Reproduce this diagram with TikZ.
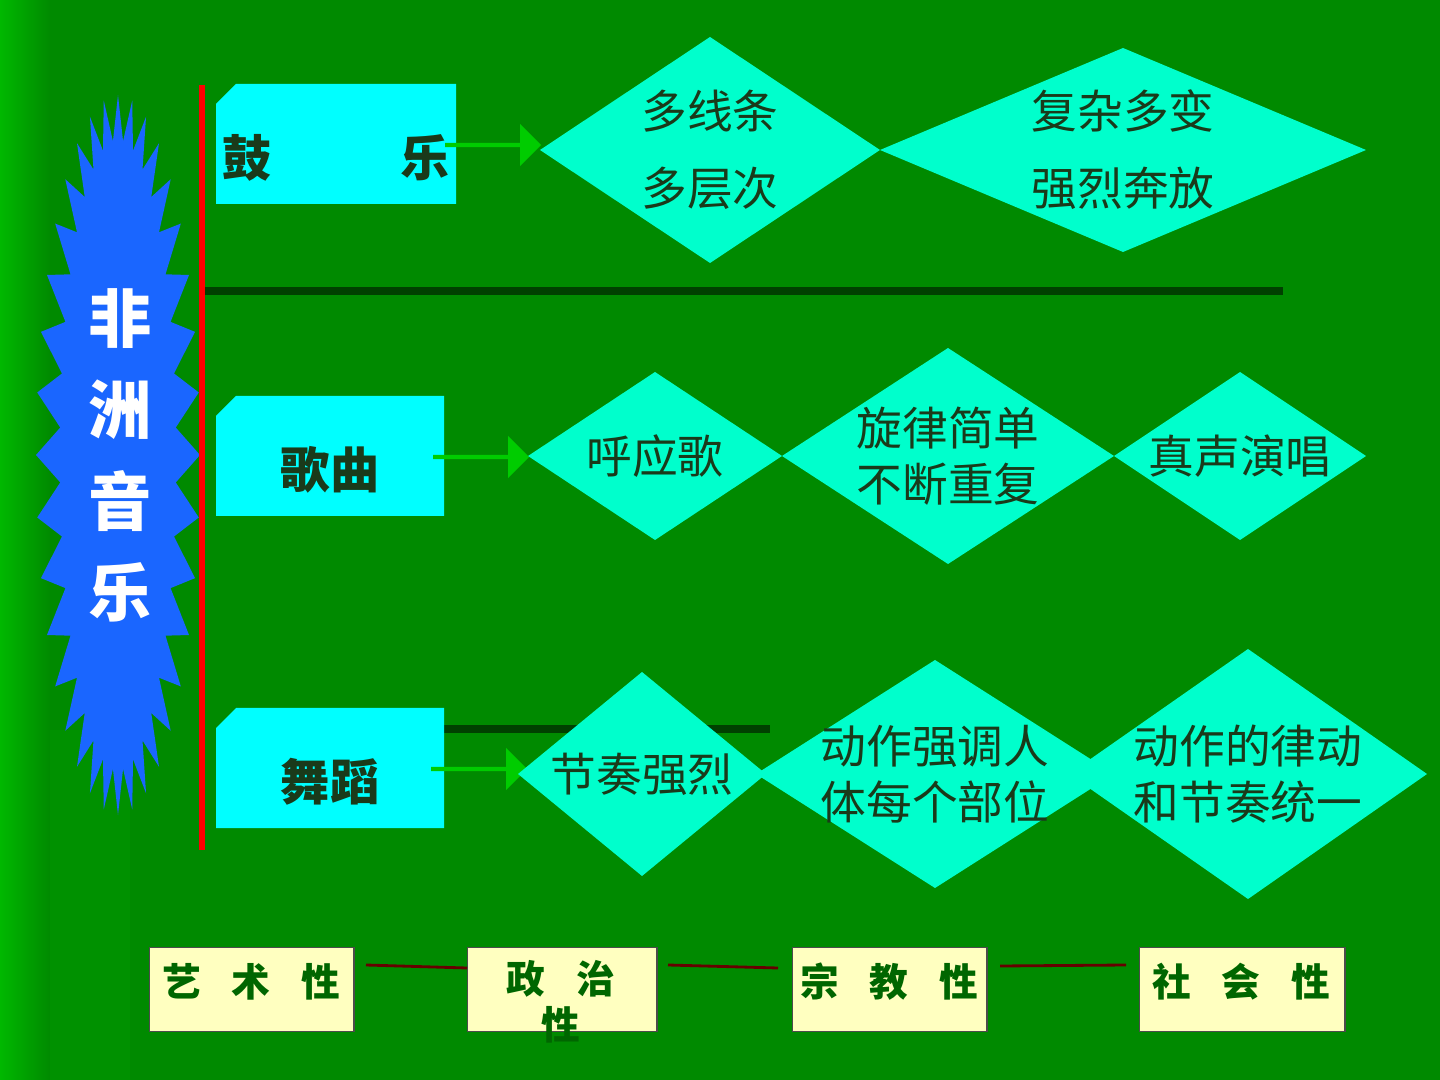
\documentclass[tikz,border=0pt]{standalone}
\usepackage{fontspec}
\newfontfamily\cjk{Noto Sans CJK SC}
\usetikzlibrary{positioning,shapes.arrows}
\definecolor{bgreen}{HTML}{008A00}
\definecolor{lgreen}{HTML}{00B800}
\definecolor{tagcyan}{HTML}{00FFFF}
\definecolor{diacyan}{HTML}{00FFCC}
\definecolor{txtgreen}{HTML}{1A3A1A}
\definecolor{starblue}{HTML}{1A66FF}
\definecolor{paleyel}{HTML}{FFFFC0}
\newcommand{\dia}[6]{%
  \fill[diacyan] (#2-#4,#3) -- (#2,#3-#5) -- (#2+#4,#3) -- (#2,#3+#5) -- cycle;
  \node[diatext] (#1) at (#2,#3) {#6};}
\begin{document}
\begin{tikzpicture}[x=0.01cm,y=-0.01cm,
    diatext/.style={font=\cjk\fontsize{13}{16}\selectfont, text=txtgreen, align=center, inner sep=0pt},
    tagtext/.style={font=\cjk\bfseries\fontsize{14}{16}\selectfont, text=txtgreen},
    tag/.style={fill=tagcyan},
    boxlbl/.style={draw=black!70, fill=paleyel, minimum width=#1, minimum height=0.84cm, inner sep=0pt},
    boxtext/.style={font=\cjk\bfseries\fontsize{11}{13}\selectfont, text=green!40!black},
    link/.style={draw=red!40!black, line width=0.8pt},
    garrow/.style={single arrow, fill=green!80!black, minimum height=0.96cm, minimum width=0.42cm,
        single arrow head extend=0.06cm, inner sep=0pt}]
  \useasboundingbox (0,0) rectangle (1440,1080);
  % background
  \fill[bgreen] (0,0) rectangle (1440,1080);
  \shade[left color=lgreen, right color=bgreen] (0,0) rectangle (50,1080);
  \fill[green!60!black, opacity=0.5] (50,730) rectangle (130,1080);
  \draw[green!25!black, line width=2pt] (200,291) -- (1283,291);
  \draw[green!25!black, line width=2pt] (440,729) -- (770,729);
  % star
  \fill[starblue] plot[samples=73, domain=0:360, variable=\t]
    ({118+(mod(round(\t/5),2)==0 ? 82 : 58)*cos(\t)}, {455+(mod(round(\t/5),2)==0 ? 360 : 315)*sin(\t)}) -- cycle;
  \foreach \ch [count=\i] in {非,洲,音,乐}
    \node[font=\cjk\bfseries\fontsize{18}{20}\selectfont, text=white] (star\i) at (120,228+91*\i) {\ch};
  \draw[red, line width=1.5pt] (202,85) -- (202,850);
  % tags
  \fill[tag] (236,84) -- (456,84) -- (456,204) -- (216,204) -- (216,104) -- cycle;
  \node[tagtext] (gu) at (336,158) {鼓\hspace{2.6em}乐};
  \fill[tag] (236,396) -- (444,396) -- (444,516) -- (216,516) -- (216,416) -- cycle;
  \node[tagtext] (ge) at (330,470) {歌曲};
  \fill[tag] (236,708) -- (444,708) -- (444,828) -- (216,828) -- (216,728) -- cycle;
  \node[tagtext] (wu) at (330,782) {舞蹈};
  \node[garrow] (a1) at (492,145) {};
  \node[garrow] (a2) at (480,457) {};
  \node[garrow] (a3) at (478,769) {};
  % diamonds
  \dia{d1}{710}{150}{170}{113}{多线条\\[0.45em]多层次}
  \dia{d2}{1123}{150}{243}{102}{复杂多变\\[0.45em]强烈奔放}
  \dia{d3}{655}{456}{127}{84}{呼应歌}
  \dia{d4}{948}{456}{166}{108}{旋律简单\\不断重复}
  \dia{d5}{1240}{456}{126}{84}{真声演唱}
  \dia{d6}{642}{774}{124}{102}{节奏强烈}
  \dia{d7}{935}{774}{179}{114}{动作强调人\\体每个部位}
  \dia{d8}{1248}{774}{179}{125}{动作的律动\\和节奏统一}
  % bottom boxes
  \node[boxlbl=2.04cm, anchor=north west] (b1) at (149,947) {};
  \node[boxtext] at (251,982) {艺\hspace{0.8em}术\hspace{0.8em}性};
  \node[boxlbl=1.89cm, anchor=north west] (b2) at (467,947) {};
  \node[boxtext, align=center] at (561,1002) {政\hspace{0.8em}治\\性};
  \node[boxlbl=1.94cm, anchor=north west] (b3) at (792,947) {};
  \node[boxtext] at (889,982) {宗\hspace{0.8em}教\hspace{0.8em}性};
  \node[boxlbl=2.05cm, anchor=north west] (b4) at (1139,947) {};
  \node[boxtext] at (1241,982) {社\hspace{0.8em}会\hspace{0.8em}性};
  \coordinate (l1) at (366,965);
  \coordinate (l2) at (668,965);
  \coordinate (l3) at (778,968);
  \coordinate (l4) at (1000,966);
  \coordinate (l5) at (1126,965);
  \draw[link] (l1) -- (b2.north west |- 0,968);
  \draw[link] (l2) -- (l3);
  \draw[link] (l4) -- (l5);
\end{tikzpicture}
\end{document}
